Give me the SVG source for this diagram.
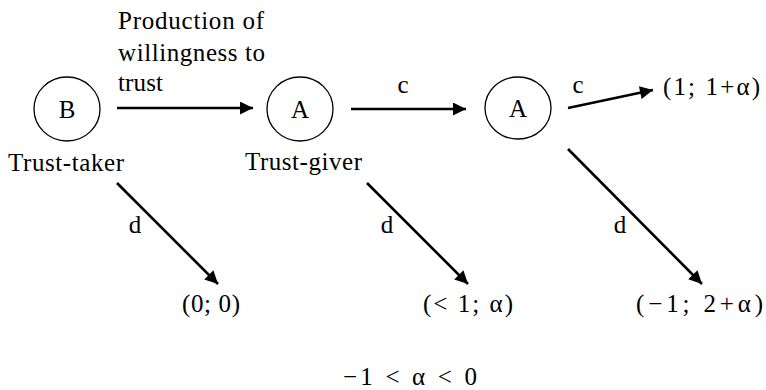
<svg xmlns="http://www.w3.org/2000/svg" width="766" height="390" viewBox="0 0 766 390">
  <style>
    text { font-size: 25px; fill: #000; }
    .node { fill: #fff; stroke: #000; stroke-width: 1.3; }
    .mid { text-anchor: middle; }
    .edge { stroke: #000; stroke-width: 2.6; fill: none; marker-end: url(#head); }
  </style>
  <defs>
    <marker id="head" viewBox="0 0 10 10" refX="10" refY="5" markerUnits="userSpaceOnUse" markerWidth="17" markerHeight="13" orient="auto">
      <path d="M0,0 L10,5 L0,10 Z" fill="#000"/>
    </marker>
  </defs>

  <rect width="766" height="390" fill="#fff"/>

  <g font-family="Times New Roman, serif">
    <!-- decision nodes -->
    <g id="node-B">
      <ellipse class="node" cx="67" cy="109" rx="33" ry="32"/>
      <text class="mid" x="67" y="118">B</text>
      <text x="8" y="171" textLength="116">Trust-taker</text>
    </g>
    <g id="node-A1">
      <ellipse class="node" cx="300" cy="109" rx="33" ry="32"/>
      <text class="mid" x="300" y="118">A</text>
      <text x="245" y="170" textLength="117">Trust-giver</text>
    </g>
    <g id="node-A2">
      <ellipse class="node" cx="518" cy="108" rx="33" ry="31"/>
      <text class="mid" x="518" y="117">A</text>
    </g>

    <!-- terminal payoffs -->
    <g id="payoff-c">
      <text x="663" y="95" textLength="97">(1; 1+α)</text>
    </g>
    <g id="payoff-d1">
      <text x="182" y="312" textLength="58">(0; 0)</text>
    </g>
    <g id="payoff-d2">
      <text x="423" y="312" textLength="90">(&lt; 1; α)</text>
    </g>
    <g id="payoff-d3">
      <text x="636" y="312" textLength="127">(−1; 2+α)</text>
    </g>

    <!-- moves -->
    <g id="connectors">
      <line class="edge" x1="117" y1="108" x2="253" y2="108"/>
      <line class="edge" x1="351" y1="109" x2="466" y2="109"/>
      <line class="edge" x1="568" y1="108" x2="653" y2="90"/>
      <line class="edge" x1="117" y1="183" x2="218" y2="284"/>
      <line class="edge" x1="367" y1="183" x2="468" y2="284"/>
      <line class="edge" x1="568" y1="149" x2="702" y2="284"/>
    </g>

    <!-- move labels -->
    <g id="labels">
      <text x="118" y="29" textLength="146">Production of</text>
      <text x="118" y="61" textLength="147">willingness to</text>
      <text x="118" y="91" textLength="45">trust</text>
      <text class="mid" x="403" y="93">c</text>
      <text class="mid" x="578" y="93">c</text>
      <text class="mid" x="135" y="233">d</text>
      <text class="mid" x="387" y="233">d</text>
      <text class="mid" x="620" y="233">d</text>
    </g>

    <text id="constraint" x="343" y="385" textLength="134">−1 &lt; α &lt; 0</text>
  </g>
</svg>
